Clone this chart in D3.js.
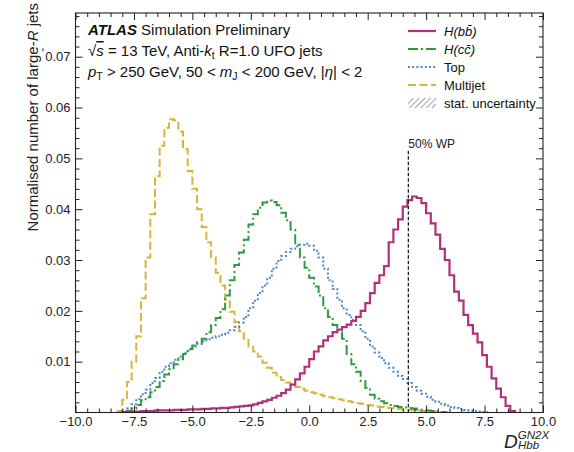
<!DOCTYPE html>
<html>
<head>
<meta charset="utf-8">
<script src="https://cdn.jsdelivr.net/npm/d3@7/dist/d3.min.js"></script>
<style>
  body { margin: 0; background: #fff; }
  svg { display: block; font-family: "Liberation Sans", Arial, sans-serif; }
</style>
</head>
<body>
<svg id="vis" width="574" height="452"></svg>
<script>
// Datos (histogramas normalizados, bins de 0.2)
const BIN_WIDTH = 0.2;

const HBB_START = -8.0;
const HBB = [0.0001, 0.0002, 0.0002, 0.0002, 0.0003, 0.0003, 0.0003, 0.0004, 0.0004, 0.0004,
  0.0004, 0.0005, 0.0005, 0.0005, 0.0006, 0.0006, 0.0006, 0.0007, 0.0007, 0.0008,
  0.0008, 0.0009, 0.0009, 0.0010, 0.0011, 0.0012, 0.0013, 0.0014, 0.0016, 0.0019,
  0.0022, 0.0025, 0.0029, 0.0033, 0.0038, 0.0045, 0.0055, 0.0065, 0.0077, 0.0090,
  0.0105, 0.0120, 0.0130, 0.0142, 0.0150, 0.0158, 0.0163, 0.0168, 0.0173, 0.0180,
  0.0188, 0.0200, 0.0215, 0.0235, 0.0255, 0.0270, 0.0288, 0.0335, 0.0360, 0.0380,
  0.0405, 0.0418, 0.0425, 0.0422, 0.0412, 0.0392, 0.0372, 0.0350, 0.0322, 0.0300,
  0.0270, 0.0238, 0.0220, 0.0192, 0.0172, 0.0155, 0.0138, 0.0113, 0.0090, 0.0067,
  0.0047, 0.0030, 0.0013, 0.0003];

const HCC_START = -7.8;
const HCC = [0.0003, 0.0008, 0.0015, 0.0024, 0.0030, 0.0040, 0.0050, 0.0062, 0.0075, 0.0085,
  0.0095, 0.0105, 0.0115, 0.0125, 0.0132, 0.0138, 0.0145, 0.0158, 0.0172, 0.0186,
  0.0203, 0.0230, 0.0260, 0.0290, 0.0315, 0.0340, 0.0370, 0.0390, 0.0403, 0.0413,
  0.0417, 0.0414, 0.0408, 0.0393, 0.0378, 0.0360, 0.0330, 0.0305, 0.0285, 0.0265,
  0.0248, 0.0230, 0.0205, 0.0188, 0.0172, 0.0158, 0.0145, 0.0115, 0.0095, 0.0080,
  0.0062, 0.0048, 0.0035, 0.0027, 0.0022, 0.0018, 0.0015, 0.0013, 0.0011, 0.0010,
  0.0009, 0.0008, 0.0006, 0.0005, 0.0004, 0.0003, 0.0002, 0.0001];

const TOP_START = -8.0;
const TOP = [0.0002, 0.0008, 0.0016, 0.0026, 0.0036, 0.0045, 0.0058, 0.0068, 0.0080, 0.0090,
  0.0097, 0.0104, 0.0110, 0.0117, 0.0124, 0.0130, 0.0135, 0.0140, 0.0144, 0.0147,
  0.0150, 0.0153, 0.0157, 0.0162, 0.0168, 0.0177, 0.0188, 0.0205, 0.0220, 0.0235,
  0.0250, 0.0265, 0.0283, 0.0298, 0.0308, 0.0316, 0.0322, 0.0327, 0.0330, 0.0332,
  0.0328, 0.0318, 0.0305, 0.0283, 0.0260, 0.0243, 0.0222, 0.0205, 0.0192, 0.0182,
  0.0172, 0.0160, 0.0145, 0.0130, 0.0118, 0.0107, 0.0097, 0.0088, 0.0080, 0.0072,
  0.0066, 0.0058, 0.0050, 0.0043, 0.0037, 0.0031, 0.0025, 0.0021, 0.0017, 0.0014,
  0.0011, 0.0009, 0.0007, 0.0005, 0.0004, 0.0003, 0.0002, 0.0001];

const MULTIJET_START = -8.2;
const MULTIJET = [0.0003, 0.0025, 0.0060, 0.0100, 0.0150, 0.0225, 0.0305, 0.0390, 0.0465, 0.0525,
  0.0560, 0.0577, 0.0575, 0.0553, 0.0518, 0.0475, 0.0440, 0.0400, 0.0365, 0.0335,
  0.0305, 0.0275, 0.0250, 0.0222, 0.0198, 0.0178, 0.0160, 0.0145, 0.0130, 0.0120,
  0.0110, 0.0098, 0.0088, 0.0078, 0.0070, 0.0064, 0.0059, 0.0054, 0.0050, 0.0047,
  0.0043, 0.0040, 0.0038, 0.0035, 0.0032, 0.0030, 0.0028, 0.0026, 0.0024, 0.0022,
  0.0020, 0.0018, 0.0017, 0.0015, 0.0014, 0.0012, 0.0011, 0.0010, 0.0009, 0.0008,
  0.0007, 0.0006, 0.0005, 0.0005, 0.0004, 0.0003, 0.0003, 0.0002, 0.0002, 0.0001,
  0.0001];

const WP_50 = 4.24;

const X_TICKS = [-10, -7.5, -5, -2.5, 0, 2.5, 5, 7.5, 10];
const Y_TICKS = [0.01, 0.02, 0.03, 0.04, 0.05, 0.06, 0.07];

// Series: nombre, datos y estilo
const SERIES = [
  { key: "multijet", start: MULTIJET_START, values: MULTIJET, color: "#d7b43a", dash: "8,3.5", width: 2 },
  { key: "top", start: TOP_START, values: TOP, color: "#4f86c6", dash: "2,2.2", width: 2 },
  { key: "hcc", start: HCC_START, values: HCC, color: "#2f9b3f", dash: "10,3,2,3", width: 2 },
  { key: "hbb", start: HBB_START, values: HBB, color: "#b0307a", dash: null, width: 2.2 }
];

const SVG = d3.select("#vis");
const M = { left: 75.5, right: 543, top: 13, bottom: 412.5 };

const x = d3.scaleLinear().domain([-10, 10]).range([M.left, M.right]);
const y = d3.scaleLinear().domain([0, 0.0786]).range([M.bottom, M.top]);

SVG.append("clipPath").attr("id", "clip")
  .append("rect")
  .attr("x", M.left).attr("y", M.top)
  .attr("width", M.right - M.left).attr("height", M.bottom - M.top);

// Histogramas como lineas escalonadas
const line = d3.line()
  .x(d => x(d[0]))
  .y(d => y(d[1]))
  .curve(d3.curveStepAfter);

function stepPoints(s) {
  const pts = [[s.start, 0]];
  s.values.forEach((v, i) => pts.push([s.start + i * BIN_WIDTH, v]));
  pts.push([s.start + s.values.length * BIN_WIDTH, 0]);
  return pts;
}

SVG.append("g").attr("clip-path", "url(#clip)")
  .selectAll("path")
  .data(SERIES)
  .join("path")
  .attr("d", d => line(stepPoints(d)))
  .attr("fill", "none")
  .attr("stroke", d => d.color)
  .attr("stroke-width", d => d.width)
  .attr("stroke-dasharray", d => d.dash)
  .attr("stroke-linejoin", "miter");

// Linea del working point
SVG.append("line")
  .attr("x1", x(WP_50)).attr("x2", x(WP_50))
  .attr("y1", y(0.0515)).attr("y2", M.bottom)
  .attr("stroke", "#222").attr("stroke-width", 1.3)
  .attr("stroke-dasharray", "3.5,2");

SVG.append("text")
  .attr("x", x(WP_50)).attr("y", y(0.0515) - 3)
  .attr("font-size", 12).attr("fill", "#222")
  .text("50% WP");

// Ejes estilo ATLAS: ticks hacia adentro en los cuatro lados
const minorX = d3.range(-10, 10.01, 0.5).filter(v => !X_TICKS.includes(v));
const minorY = d3.range(0.002, 0.0786, 0.002).filter(v => Math.abs(v * 100 - Math.round(v * 100)) > 1e-6);

function styleAxis(g) {
  g.selectAll("path").remove();
  g.selectAll("line").attr("stroke", "#222").attr("stroke-width", 1);
  g.selectAll("text").attr("font-size", 13).attr("fill", "#222").attr("font-family", "Liberation Sans, Arial, sans-serif");
}

SVG.append("g").attr("transform", `translate(0,${M.bottom})`)
  .call(d3.axisBottom(x).tickValues(X_TICKS).tickFormat(d3.format(".1f")).tickSize(-7).tickPadding(4))
  .call(styleAxis);
SVG.append("g").attr("transform", `translate(0,${M.bottom})`)
  .call(d3.axisBottom(x).tickValues(minorX).tickFormat("").tickSize(-4))
  .call(styleAxis);
SVG.append("g").attr("transform", `translate(0,${M.top})`)
  .call(d3.axisTop(x).tickValues(X_TICKS).tickFormat("").tickSize(-7))
  .call(styleAxis);
SVG.append("g").attr("transform", `translate(0,${M.top})`)
  .call(d3.axisTop(x).tickValues(minorX).tickFormat("").tickSize(-4))
  .call(styleAxis);

SVG.append("g").attr("transform", `translate(${M.left},0)`)
  .call(d3.axisLeft(y).tickValues(Y_TICKS).tickFormat(d3.format(".2f")).tickSize(-7).tickPadding(5))
  .call(styleAxis);
SVG.append("g").attr("transform", `translate(${M.left},0)`)
  .call(d3.axisLeft(y).tickValues(minorY).tickFormat("").tickSize(-4))
  .call(styleAxis);
SVG.append("g").attr("transform", `translate(${M.right},0)`)
  .call(d3.axisRight(y).tickValues(Y_TICKS).tickFormat("").tickSize(-7))
  .call(styleAxis);
SVG.append("g").attr("transform", `translate(${M.right},0)`)
  .call(d3.axisRight(y).tickValues(minorY).tickFormat("").tickSize(-4))
  .call(styleAxis);

// Marco
SVG.append("rect")
  .attr("x", M.left).attr("y", M.top)
  .attr("width", M.right - M.left).attr("height", M.bottom - M.top)
  .attr("fill", "none").attr("stroke", "#222").attr("stroke-width", 1.1);

// Etiqueta eje Y
const yl = SVG.append("text")
  .attr("transform", `translate(38,3) rotate(-90)`)
  .attr("text-anchor", "end")
  .attr("font-size", 15).attr("fill", "#222");
yl.append("tspan").text("Normalised number of large-");
yl.append("tspan").attr("font-style", "italic").text("R");
yl.append("tspan").text(" jets");

// Etiqueta eje X
const xl = SVG.append("text").attr("x", 504).attr("y", 448).attr("fill", "#222").attr("font-style", "italic");
xl.append("tspan").attr("font-size", 19).text("D");
xl.append("tspan").attr("font-size", 11.5).attr("dy", -9).text("GN2X");
SVG.append("text").attr("x", 518).attr("y", 449).attr("fill", "#222")
  .attr("font-style", "italic").attr("font-size", 11.5).text("Hbb");

// Marca suelta a la izquierda
SVG.append("text").attr("x", 41).attr("y", 50).attr("font-size", 13).attr("fill", "#222").text(",");

// Texto ATLAS
const t1 = SVG.append("text").attr("x", 88).attr("y", 35).attr("font-size", 15).attr("fill", "#111");
t1.append("tspan").attr("font-weight", "bold").attr("font-style", "italic").text("ATLAS");
t1.append("tspan").text(" Simulation Preliminary");

const t2 = SVG.append("text").attr("x", 88).attr("y", 56).attr("font-size", 15).attr("fill", "#111");
t2.append("tspan").text("\u221A");
t2.append("tspan").attr("font-style", "italic").attr("text-decoration", "overline").text("s");
t2.append("tspan").text(" = 13 TeV, Anti-");
t2.append("tspan").attr("font-style", "italic").text("k");
t2.append("tspan").attr("font-size", 10.5).attr("dy", 3).text("t");
t2.append("tspan").attr("dy", -3).text(" R=1.0 UFO jets");

const t3 = SVG.append("text").attr("x", 88).attr("y", 77).attr("font-size", 15).attr("fill", "#111");
t3.append("tspan").attr("font-style", "italic").text("p");
t3.append("tspan").attr("font-size", 10.5).attr("dy", 3).text("T");
t3.append("tspan").attr("dy", -3).text(" > 250 GeV, 50 < ");
t3.append("tspan").attr("font-style", "italic").text("m");
t3.append("tspan").attr("font-size", 10.5).attr("dy", 3).text("J");
t3.append("tspan").attr("dy", -3).text(" < 200 GeV, |");
t3.append("tspan").attr("font-style", "italic").text("\u03B7");
t3.append("tspan").text("| < 2");

// Leyenda
const defs = SVG.append("defs");
defs.append("pattern").attr("id", "hatch").attr("patternUnits", "userSpaceOnUse")
  .attr("width", 4).attr("height", 4).attr("patternTransform", "rotate(45)")
  .append("line").attr("x1", 0).attr("y1", 0).attr("x2", 0).attr("y2", 4)
  .attr("stroke", "#666").attr("stroke-width", 1.2);

const LEGEND = [
  { label: "H(bb\u0304)", italic: true, key: "hbb" },
  { label: "H(cc\u0304)", italic: true, key: "hcc" },
  { label: "Top", italic: false, key: "top" },
  { label: "Multijet", italic: false, key: "multijet" },
  { label: "stat. uncertainty", italic: false, key: "stat" }
];

const leg = SVG.append("g").selectAll("g")
  .data(LEGEND)
  .join("g")
  .attr("transform", (d, i) => `translate(408,${31 + i * 18})`);

leg.each(function (d) {
  const g = d3.select(this);
  const s = SERIES.find(e => e.key === d.key);
  if (s) {
    g.append("line").attr("x1", 0).attr("x2", 28).attr("y1", 0).attr("y2", 0)
      .attr("stroke", s.color).attr("stroke-width", s.width)
      .attr("stroke-dasharray", s.dash);
  } else {
    g.append("rect").attr("x", 0).attr("y", -5).attr("width", 28).attr("height", 10)
      .attr("fill", "url(#hatch)");
  }
  g.append("text").attr("x", 36).attr("y", 5).attr("font-size", 13).attr("fill", "#111")
    .attr("font-style", d.italic ? "italic" : null)
    .text(d.label);
});
</script>
</body>
</html>
